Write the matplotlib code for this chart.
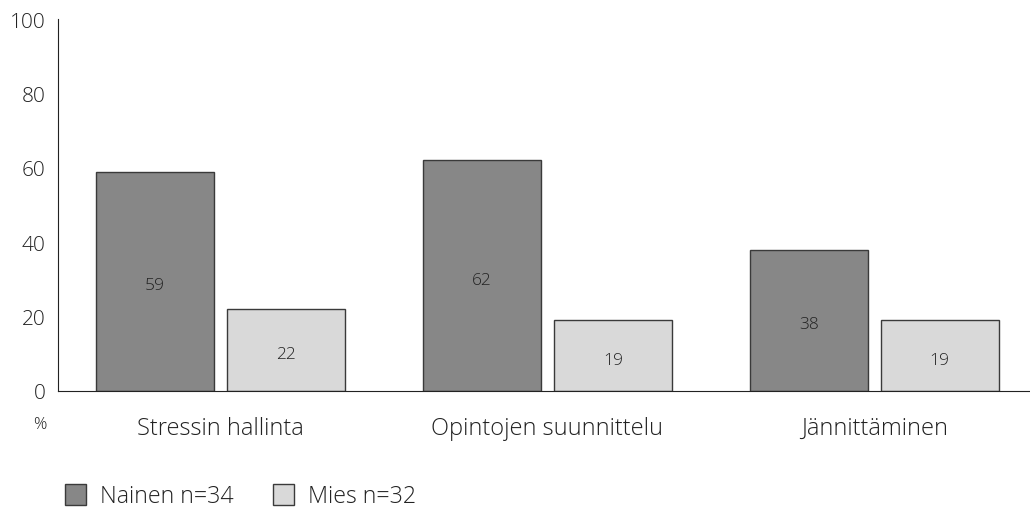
import matplotlib
matplotlib.use("Agg")
import matplotlib.pyplot as plt
from matplotlib.patches import Patch
import numpy as np

categories = ["Stressin hallinta", "Opintojen suunnittelu", "Jännittäminen"]
nainen = [59, 62, 38]
mies = [22, 19, 19]
series_labels = ["Nainen n=34", "Mies n=32"]
yticks = [0, 20, 40, 60, 80, 100]

plt.rcParams['font.family'] = ['Open Sans', 'DejaVu Sans']

fig = plt.figure(figsize=(10.3, 5.1), dpi=100)
ax = fig.add_axes([58/1030, 118/510, 1 - 58/1030, 372/510])

x = np.arange(len(categories))
w = 0.36
dark = "#878787"
light = "#d9d9d9"
edge = "#3a3a3a"
txt = "#222222"
b1 = ax.bar(x - 0.2, nainen, w, color=dark, edgecolor=edge, linewidth=1.0)
b2 = ax.bar(x + 0.2, mies, w, color=light, edgecolor=edge, linewidth=1.0)

for bars, vals in ((b1, nainen), (b2, mies)):
    for r, v in zip(bars, vals):
        ax.annotate(f"{v}", (r.get_x() + r.get_width() / 2, v / 2), xytext=(0, -3),
                    textcoords="offset points", ha="center", va="center",
                    fontsize=12.5, color=txt, fontweight="light")

ax.set_ylim(0, 100)
ax.set_xlim(-0.497, 2.476)
ax.set_yticks(yticks)
ax.set_yticklabels([str(t) for t in yticks], fontsize=15, color=txt, fontweight="light")
ax.set_xticks(x)
ax.set_xticklabels(categories, fontsize=17, color=txt, fontweight="light")
ax.tick_params(axis="both", length=0)
ax.tick_params(axis="y", pad=9)
ax.tick_params(axis="x", pad=18)
for s in ("top", "right"):
    ax.spines[s].set_visible(False)
ax.spines["left"].set_color("#222222")
ax.spines["bottom"].set_color("#222222")

fig.text(40/1030, 1 - 425/510, "%", ha="center", va="center", fontsize=12, color=txt,
         fontweight="light")

handles = [Patch(facecolor=dark, edgecolor=edge, label=series_labels[0]),
           Patch(facecolor=light, edgecolor=edge, label=series_labels[1])]
leg = fig.legend(handles=handles, loc="center left", bbox_to_anchor=(44/1030, 1 - 497/510),
                 ncol=2, frameon=False, prop={"size": 16.7, "weight": "light"},
                 handlelength=0.9, handleheight=1.0,
                 handletextpad=0.6, columnspacing=1.7)
for t in leg.get_texts():
    t.set_color(txt)

fig.savefig("out.png", dpi=100)
